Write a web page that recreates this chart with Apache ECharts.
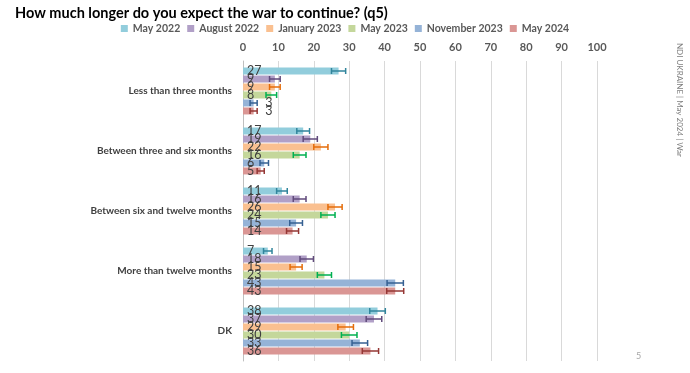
<!DOCTYPE html>
<html><head><meta charset="utf-8">
<script src="https://cdn.jsdelivr.net/npm/echarts@6/dist/echarts.min.js"></script>
<style>html,body{margin:0;padding:0;background:#fff}#c{width:690px;height:373px}</style>
</head><body><div id="c"></div>
<script>
var categories = ["Less than three months","Between three and six months","Between six and twelve months","More than twelve months","DK"];
var seriesNames = ["May 2022","August 2022","January 2023","May 2023","November 2023","May 2024"];
var may2022 = [27,17,11,7,38];
var aug2022 = [9,19,16,18,37];
var jan2023 = [9,22,26,15,29];
var may2023 = [8,16,24,23,30];
var nov2023 = [3,6,15,43,33];
var may2024 = [3,5,14,43,36];
var err2022 = [2.0,1.8,1.5,1.2,2.2];
var errAug2022 = [1.5,2.0,1.8,1.9,2.2];
var errJan2023 = [1.5,2.0,2.0,1.7,2.2];
var errMay2023 = [1.5,1.8,2.0,2.0,2.2];
var errNov2023 = [1.0,1.2,1.8,2.3,2.2];
var errMay2024 = [1.0,1.0,1.7,2.4,2.3];
var xTicks = [0,10,20,30,40,50,60,70,80,90,100];

var values = [may2022,aug2022,jan2023,may2023,nov2023,may2024];
var errs = [err2022,errAug2022,errJan2023,errMay2023,errNov2023,errMay2024];
var barColors = ["#92CDDC","#B1A0C7","#FAC090","#C4D79B","#95B3D7","#DA9694"];
var errColors = ["#31859C","#604A7B","#E46C0A","#00B050","#366092","#953735"];
var BW = 7, GAP = 1;
var FONT = 'Lato';

var series = [];
values.forEach(function(v,i){
  series.push({
    name: seriesNames[i], type:'bar', data: v.map(function(x,j){
      return {value:x, label: x < 5 ? {position:'right', offset:[errs[i][j]*3.54+3,0]} : {}};
    }),
    barWidth: BW, barGap: '14%', itemStyle:{color:barColors[i]},
    label:{show:true, position:'insideLeft', offset:[-1,0], color:'#404040', fontSize:12.5, fontFamily:FONT},
    z:2
  });
});
values.forEach(function(v,i){
  var data = v.map(function(x,j){ return [j, x, errs[i][j]]; });
  series.push({
    type:'custom', name: seriesNames[i], silent:true, z:5,
    data: data,
    encode:{x:1, y:0},
    renderItem: function(params, api){
      var cat = api.value(0), val = api.value(1), e = api.value(2);
      var c = api.coord([val, cat]);
      var lo = api.coord([val - e, cat]);
      var hi = api.coord([val + e, cat]);
      var off = -((6*BW + 5*GAP)/2) + i*(BW+GAP) + BW/2;
      var y = c[1] + off;
      var st = {stroke: errColors[i], lineWidth:1.5};
      return {type:'group', children:[
        {type:'line', shape:{x1:lo[0],y1:y,x2:hi[0],y2:y}, style:st},
        {type:'line', shape:{x1:lo[0],y1:y-3,x2:lo[0],y2:y+3}, style:st},
        {type:'line', shape:{x1:hi[0],y1:y-3,x2:hi[0],y2:y+3}, style:st}
      ]};
    }
  });
});

var chart = echarts.init(document.getElementById('c'));
chart.setOption({
  animation:false,
  textStyle:{fontFamily:FONT},
  title:{text:'How much longer do you expect the war to continue? (q5)', left:10, top:1,
    textStyle:{fontSize:14.5, fontWeight:'bold', color:'#000', fontFamily:FONT}},
  legend:{data:seriesNames, top:18, left:'center', itemWidth:7, itemHeight:7, itemGap:7, icon:'rect',
    textStyle:{fontSize:10.5, color:'#595959', fontWeight:'bold', fontFamily:FONT}},
  grid:{left:243, right:93, top:61, bottom:12},
  xAxis:{type:'value', position:'top', min:0, max:100, interval:10,
    axisLabel:{color:'#595959', fontSize:11, fontWeight:'bold', margin:8, fontFamily:FONT},
    axisLine:{show:false}, axisTick:{show:false},
    splitLine:{lineStyle:{color:'#D9D9D9', width:1}}},
  yAxis:{type:'category', data:categories, inverse:true,
    axisLine:{lineStyle:{color:'#BFBFBF'}}, axisTick:{show:false},
    axisLabel:{color:'#404040', fontSize:10, fontWeight:'bold', margin:11, fontFamily:FONT}},
  series: series,
  graphic:[
    {type:'text', left:676, top:43, rotation:-Math.PI/2, style:{text:'NDI UKRAINE | May 2024 | War', fill:'#808080', fontSize:8, fontFamily:FONT}},
    {type:'text', left:636, top:352, style:{text:'5', fill:'#A6A6A6', fontSize:9, fontFamily:FONT}}
  ]
});
</script>
</body></html>
